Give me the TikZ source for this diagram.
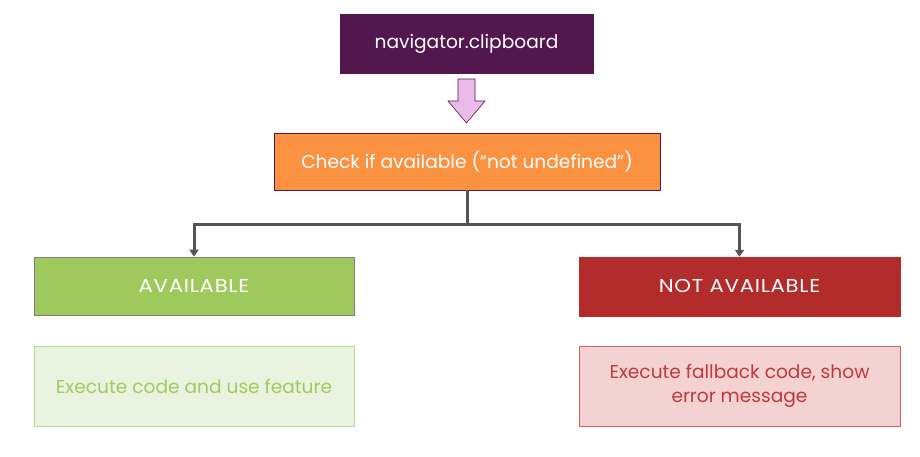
\documentclass[tikz,border=0pt]{standalone}
\usepackage{fontspec}
\setmainfont{Poppins}
\usetikzlibrary{arrows.meta}
\definecolor{navpurple}{HTML}{52174F}
\definecolor{pinkfill}{HTML}{EABBE8}
\definecolor{orangefill}{HTML}{FB9241}
\definecolor{greenfill}{HTML}{9FC95C}
\definecolor{lgreenfill}{HTML}{EAF3DF}
\definecolor{lgreenline}{HTML}{B5DB8C}
\definecolor{greentext}{HTML}{9FCB60}
\definecolor{redfill}{HTML}{B32C2C}
\definecolor{lredfill}{HTML}{F4D2D2}
\definecolor{lredline}{HTML}{D06060}
\definecolor{redtext}{HTML}{C0393B}
\definecolor{connector}{HTML}{555555}
\newfontfamily\capsfont[FakeStretch=1.14,LetterSpace=4]{Poppins}
\tikzset{
  box/.style={rectangle, inner sep=0pt, align=center, font=\fontsize{18.6}{24}\selectfont},
  capsbox/.style={box, font=\capsfont\fontsize{18.6}{24}\selectfont},
  conn/.style={draw=connector, line width=3pt, -{Triangle[length=7pt,width=9pt]}},
}
\begin{document}
\begin{tikzpicture}[x=1pt,y=-1pt]
\useasboundingbox[fill=white] (0,0) rectangle (920,457);
\node[box, fill=navpurple, draw=navpurple, text=white, minimum width=253pt, minimum height=59pt] (nav) at (466.5,43.5) {navigator.clipboard};
\draw[fill=pinkfill, draw=navpurple, line width=0.6pt]
  (458,79) -- (475,79) -- (475,101) -- (485,101) -- (466.5,123) -- (448,101) -- (458,101) -- cycle;
\node[box, fill=orangefill, draw=navpurple, line width=0.5pt, text=white, minimum width=386pt, minimum height=57pt] (check) at (467,161.5) {Check if available (“not undefined”)};
\node[capsbox, fill=greenfill, draw=gray, line width=0.7pt, text=white, minimum width=320pt, minimum height=58pt] (avail) at (194,286) {AVAILABLE};
\node[capsbox, fill=redfill, draw=redfill, text=white, minimum width=321pt, minimum height=59pt] (navail) at (739.5,286.5) {NOT AVAILABLE};
\node[box, fill=lgreenfill, draw=lgreenline, line width=0.8pt, text=greentext, minimum width=320pt, minimum height=80pt] (exec) at (194,386) {Execute code and use feature};
\node[box, fill=lredfill, draw=lredline, line width=0.8pt, text=redtext, minimum width=321pt, minimum height=80pt] (fallback) at (739.5,386) {Execute fallback code, show\\error message};
\coordinate (split) at (467,224);
\draw[conn] (check.south) -- (split) -| (avail.north);
\draw[conn] (split) -| (navail.north);
\end{tikzpicture}
\end{document}
